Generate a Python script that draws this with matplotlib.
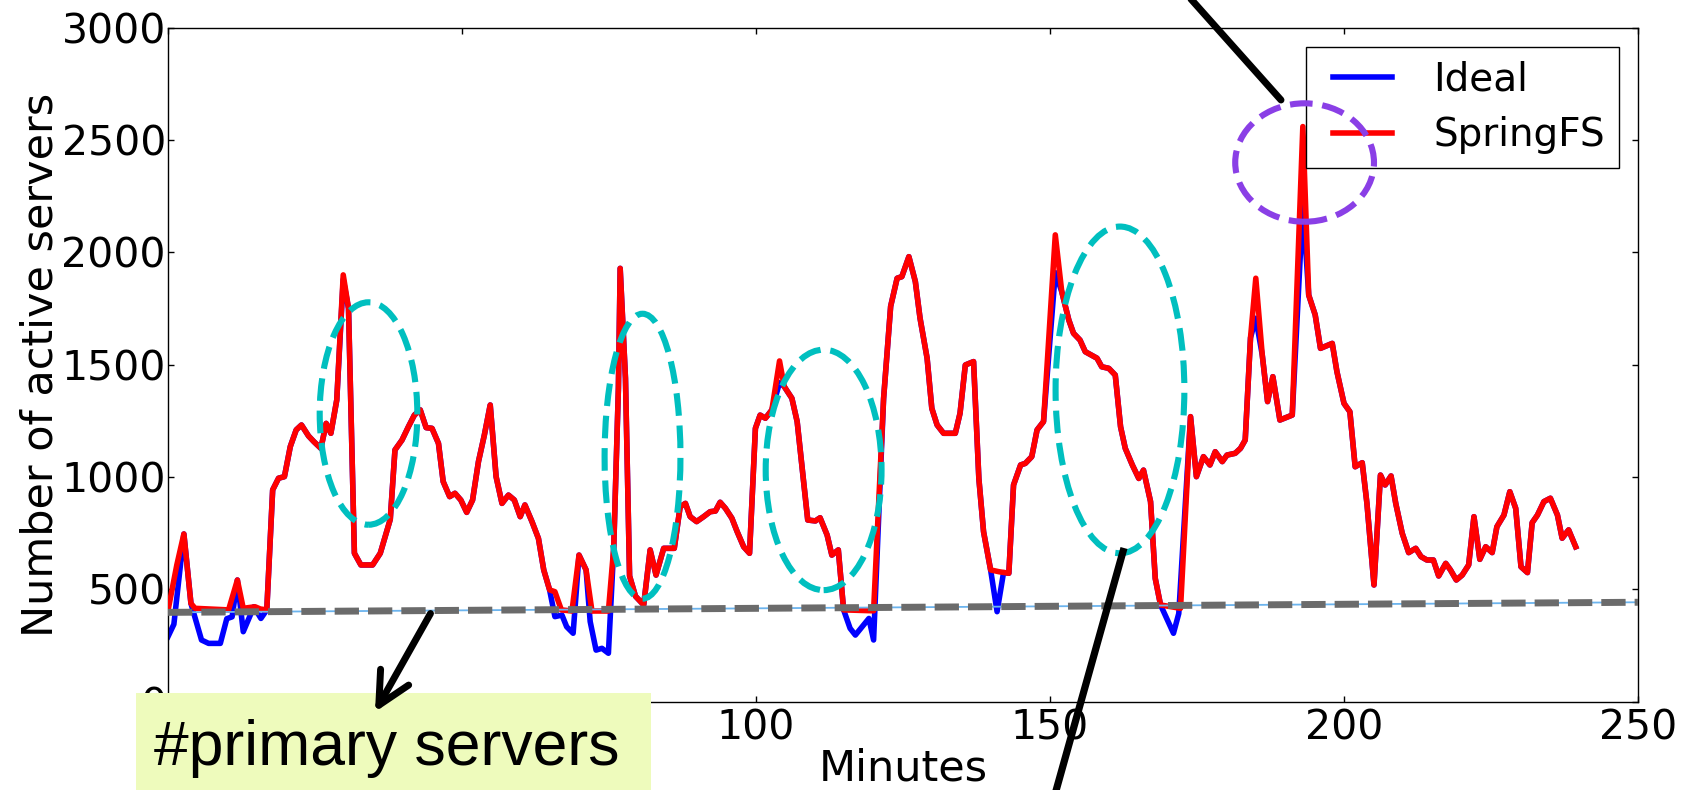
import matplotlib
matplotlib.use("Agg")
import matplotlib.pyplot as plt
from matplotlib.patches import Ellipse, FancyArrowPatch, Rectangle
from matplotlib.lines import Line2D
from matplotlib.legend_handler import HandlerLine2D

# ---------------- data ----------------
springfs_minutes = [
    0, 1.5, 2.7, 3.9, 4.6, 10.3, 11.8, 12.8, 14.8, 15.7,
    16.8, 17.8, 18.8, 19.8, 20.8, 21.8, 22.7, 23.9, 24.8, 26.0,
    26.9, 27.7, 28.7, 29.8, 30.7, 31.7, 32.8, 34.8, 36.1, 37.8,
    38.6, 39.8, 40.9, 41.9, 42.9, 43.9, 44.9, 46.0, 46.8, 47.9,
    48.8, 49.8, 50.8, 51.8, 52.8, 53.8, 54.8, 55.8, 56.8, 57.9,
    58.9, 59.9, 60.7, 61.9, 63.0, 63.9, 64.9, 65.8, 66.9, 68.7,
    69.9, 71.1, 72.1, 74.9, 75.8, 76.6, 76.9, 77.8, 78.5, 79.5,
    80.9, 82.0, 83.0, 84.3, 86.1, 87.1, 88.0, 88.8, 89.9, 91.1,
    92.2, 93.1, 93.9, 94.8, 95.9, 96.8, 97.9, 98.9, 99.9, 100.7,
    101.6, 102.7, 104.0, 104.8, 106.1, 107.0, 108.8, 110.1, 110.9, 112.1,
    112.9, 114.0, 114.9, 120.0, 121.7, 122.9, 124.0, 124.8, 126.0, 127.1,
    127.9, 129.1, 129.9, 130.8, 131.9, 133.9, 134.7, 135.6, 137.0, 137.9,
    138.7, 139.9, 141.3, 143.0, 143.8, 145.0, 145.8, 146.9, 147.8, 148.9,
    150.9, 152.0, 153.2, 154.0, 155.1, 156.0, 158.0, 158.8, 160.0, 161.1,
    162.0, 162.8, 164.0, 165.1, 165.9, 167.1, 167.9, 168.8, 172.2, 173.9,
    174.9, 176.1, 177.2, 178.1, 179.3, 180.1, 181.5, 182.4, 183.2, 184.1,
    185.0, 186.1, 187.0, 187.9, 189.1, 191.2, 193.0, 194.0, 195.1, 196.0,
    198.0, 198.8, 200.0, 201.0, 201.9, 203.1, 203.9, 205.1, 206.2, 207.0,
    208.0, 208.8, 209.9, 211.0, 212.2, 213.1, 214.1, 215.2, 216.1, 217.3,
    218.1, 219.1, 220.1, 221.2, 222.1, 223.1, 224.1, 225.2, 226.0, 227.2,
    228.2, 229.2, 230.1, 231.2, 232.0, 232.9, 234.0, 235.1, 236.3, 237.1,
    238.2, 239.4,
]
springfs_servers = [
    406, 609, 747, 438, 416, 409, 542, 416, 423, 413,
    409, 943, 995, 1002, 1136, 1210, 1232, 1183, 1158, 1128,
    1239, 1195, 1343, 1900, 1751, 661, 609, 609, 661, 812,
    1121, 1165, 1225, 1276, 1299, 1220, 1217, 1150, 980, 913,
    928, 898, 843, 898, 1069, 1187, 1321, 1002, 883, 920,
    898, 824, 876, 802, 727, 587, 498, 490, 409, 404,
    653, 587, 404, 404, 683, 1395, 1929, 1440, 560, 470,
    431, 676, 564, 683, 683, 868, 883, 824, 802, 824,
    846, 849, 888, 861, 817, 757, 690, 661, 1217, 1276,
    1262, 1299, 1517, 1403, 1351, 1247, 809, 805, 819, 742,
    653, 676, 409, 405, 1350, 1760, 1885, 1892, 1981, 1870,
    1707, 1529, 1306, 1232, 1195, 1195, 1284, 1499, 1514, 994,
    757, 587, 579, 572, 965, 1054, 1061, 1091, 1210, 1247,
    2078, 1825, 1699, 1640, 1610, 1558, 1529, 1491, 1484, 1454,
    1224, 1128, 1054, 994, 1031, 891, 549, 431, 416, 1269,
    1002, 1091, 1054, 1113, 1069, 1098, 1106, 1128, 1165, 1620,
    1885, 1543, 1336, 1447, 1254, 1276, 2560, 1810, 1722, 1573,
    1595, 1469, 1328, 1291, 1046, 1064, 883, 520, 1009, 965,
    1005, 883, 750, 664, 683, 646, 631, 631, 560, 616,
    587, 542, 564, 609, 824, 634, 690, 664, 779, 831,
    935, 861, 601, 575, 797, 831, 891, 906, 831, 728,
    765, 690,
]

ideal_minutes = [
    0, 1.0, 2.7, 3.9, 5.7, 6.9, 8.9, 10.0, 10.9, 11.8,
    12.8, 14.6, 15.8, 16.8, 17.8, 18.8, 19.8, 20.8, 21.8, 22.7,
    23.9, 24.8, 26.0, 26.9, 27.7, 28.7, 29.8, 30.7, 31.7, 32.8,
    34.8, 36.1, 37.8, 38.6, 39.8, 40.9, 41.9, 42.9, 43.9, 44.9,
    46.0, 46.8, 47.9, 48.8, 49.8, 50.8, 51.8, 52.8, 53.8, 54.8,
    55.8, 56.8, 57.9, 58.9, 59.9, 60.7, 61.9, 63.0, 63.9, 64.9,
    65.8, 67.0, 67.8, 68.9, 69.9, 71.1, 71.8, 72.8, 73.8, 74.9,
    75.8, 76.6, 76.9, 77.8, 78.5, 79.5, 80.9, 82.0, 83.0, 84.3,
    86.1, 87.1, 88.0, 88.8, 89.9, 91.1, 92.2, 93.1, 93.9, 94.8,
    95.9, 96.8, 97.9, 98.9, 99.9, 100.7, 101.6, 102.7, 104.0, 104.8,
    106.1, 107.0, 108.8, 110.1, 110.9, 112.1, 112.9, 114.0, 114.9, 116.0,
    116.9, 119.2, 120.0, 121.7, 122.9, 124.0, 124.8, 126.0, 127.1, 127.9,
    129.1, 129.9, 130.8, 131.9, 133.9, 134.7, 135.6, 137.0, 137.9, 138.7,
    139.9, 141.0, 142.1, 143.0, 143.8, 145.0, 145.8, 146.9, 147.8, 148.9,
    150.9, 152.0, 153.2, 154.0, 155.1, 156.0, 158.0, 158.8, 160.0, 161.1,
    162.0, 162.8, 164.0, 165.1, 165.9, 167.1, 167.9, 168.8, 171.0, 171.9,
    173.9, 174.9, 176.1, 177.2, 178.1, 179.3, 180.1, 181.5, 182.4, 183.2,
    184.1, 185.0, 186.1, 187.0, 187.9, 189.1, 191.2, 193.0, 194.0, 195.1,
    196.0, 198.0, 198.8, 200.0, 201.0, 201.9, 203.1, 203.9, 205.1, 206.2,
    207.0, 208.0, 208.8, 209.9, 211.0, 212.2, 213.1, 214.1, 215.2, 216.1,
    217.3, 218.1, 219.1, 220.1, 221.2, 222.1, 223.1, 224.1, 225.2, 226.0,
    227.2, 228.2, 229.2, 230.1, 231.2, 232.0, 232.9, 234.0, 235.1, 236.3,
    237.1, 238.2, 239.4,
]
ideal_servers = [
    290, 345, 747, 438, 275, 260, 260, 370, 378, 542,
    312, 423, 371, 409, 943, 995, 1002, 1136, 1210, 1232,
    1183, 1158, 1128, 1239, 1195, 1343, 1880, 1751, 661, 609,
    609, 661, 812, 1121, 1165, 1225, 1276, 1299, 1220, 1217,
    1150, 980, 913, 928, 898, 843, 898, 1069, 1187, 1321,
    1002, 883, 920, 898, 824, 876, 802, 727, 587, 498,
    379, 386, 334, 305, 653, 587, 357, 230, 238, 216,
    683, 1395, 1929, 1440, 560, 470, 431, 676, 564, 683,
    683, 868, 883, 824, 802, 824, 846, 849, 888, 861,
    817, 757, 690, 661, 1217, 1276, 1262, 1299, 1420, 1403,
    1351, 1247, 809, 805, 819, 742, 653, 676, 409, 327,
    297, 371, 275, 1350, 1760, 1885, 1892, 1981, 1870, 1707,
    1529, 1306, 1232, 1195, 1195, 1284, 1499, 1514, 994, 757,
    587, 401, 575, 572, 965, 1054, 1061, 1091, 1210, 1247,
    1910, 1825, 1699, 1640, 1610, 1558, 1529, 1491, 1484, 1454,
    1224, 1128, 1054, 994, 1031, 891, 549, 431, 305, 393,
    1269, 1002, 1091, 1054, 1113, 1069, 1098, 1106, 1128, 1165,
    1620, 1707, 1543, 1336, 1447, 1254, 1276, 2211, 1810, 1722,
    1573, 1595, 1469, 1328, 1291, 1046, 1064, 883, 520, 1009,
    965, 1005, 883, 750, 664, 683, 646, 631, 631, 560,
    616, 587, 542, 564, 609, 824, 634, 690, 664, 779,
    831, 935, 861, 601, 575, 797, 831, 891, 906, 831,
    728, 765, 690,
]

primary_minutes = [0, 250]
primary_servers = [398, 443]

x_ticks = [0, 50, 100, 150, 200, 250]
x_tick_labels = ["", "", "100", "150", "200", "250"]  # 0 and 50 sit under the label box
y_ticks = [0, 500, 1000, 1500, 2000, 2500, 3000]
series_labels = ["Ideal", "SpringFS"]
x_label = "Minutes"
y_label = "Number of active servers"
box_label = "#primary servers"

# ---------------- figure ----------------
W, H = 1694, 790
fig = plt.figure(figsize=(W / 100, H / 100), dpi=100)


def fx(px):
    return px / W


def fy(py):
    return 1 - py / H


ax_left, ax_right, ax_top, ax_bottom = 168, 1638, 27.7, 701.8
ax = fig.add_axes([fx(ax_left), fy(ax_bottom),
                   (ax_right - ax_left) / W, (ax_bottom - ax_top) / H])

l_ideal, = ax.plot(ideal_minutes, ideal_servers, color="#0000FF", lw=4.0,
                   solid_joinstyle="round", zorder=2, label=series_labels[0])
l_spring, = ax.plot(springfs_minutes, springfs_servers, color="#FF0000", lw=4.0,
                    solid_joinstyle="round", zorder=3, label=series_labels[1])
ax.plot(primary_minutes, primary_servers, color="#6CB4EE", lw=1.3, zorder=3.5)
ax.plot(primary_minutes, primary_servers, color="#6B6B6B", lw=5,
        dashes=(3.5, 1.3), zorder=4)

ax.set_xlim(0, 250)
ax.set_ylim(0, 3000)
ax.set_xticks(x_ticks)
ax.set_xticklabels(x_tick_labels)
ax.set_yticks(y_ticks)
ax.tick_params(direction="in", top=True, right=True, length=4.5, width=1,
               labelsize=29.5)
ax.tick_params(axis="x", pad=5)
ax.tick_params(axis="y", pad=1.5)
for sp in ax.spines.values():
    sp.set_linewidth(1.0)
ax.set_xlabel(x_label, fontsize=31, labelpad=-1)
ax.set_ylabel(y_label, fontsize=31, labelpad=0)

leg = ax.legend(handles=[l_ideal, l_spring], loc="upper right",
                fontsize=28, frameon=True, fancybox=False, framealpha=1,
                edgecolor="black", borderpad=0.35, labelspacing=0.45,
                handlelength=1.88, handletextpad=1.05, borderaxespad=0.5,
                numpoints=1,
                handler_map={Line2D: HandlerLine2D(xpad=0.34)})
leg.get_frame().set_linewidth(1.0)
leg.set_zorder(5)

# ---------------- annotation ellipses (data coords) ----------------
cyan = "#00BFBF"
for (cx, cy, w, h) in [(34.1, 1283, 16.6, 990), (80.7, 1093, 12.9, 1268),
                       (111.5, 1032, 19.7, 1070), (161.9, 1388, 21.9, 1454)]:
    ax.add_patch(Ellipse((cx, cy), w, h, fill=False, edgecolor=cyan, lw=4.4,
                         linestyle="--", zorder=6, clip_on=False))
ax.add_patch(Ellipse((193.3, 2400), 23.6, 527, fill=False, edgecolor="#8A3FE6",
                     lw=4.4, linestyle="--", zorder=6, clip_on=False))

# ---------------- figure-level annotations ----------------
fig.add_artist(Rectangle((fx(135.7), 0), (651 - 135.7) / W, (H - 693.3) / H,
                         transform=fig.transFigure, facecolor="#EEFBBC",
                         edgecolor="none", zorder=8))
fig.text(fx(153.6), fy(765), box_label, fontsize=45,
         family=["Liberation Sans", "DejaVu Sans"], ha="left", va="baseline",
         zorder=9)

fig.add_artist(FancyArrowPatch(posA=(fx(430.5), fy(613.5)), posB=(fx(375), fy(712)),
                               transform=fig.transFigure, arrowstyle="->",
                               mutation_scale=58, lw=5, color="black",
                               shrinkA=0, shrinkB=0, zorder=10))
fig.add_artist(Line2D([fx(1124), fx(1045)], [fy(548), fy(830)],
                      transform=fig.transFigure, color="black", lw=5.2,
                      solid_capstyle="butt", zorder=10))
fig.add_artist(Line2D([fx(1190), fx(1281)], [fy(-2), fy(100)],
                      transform=fig.transFigure, color="black", lw=5,
                      solid_capstyle="round", zorder=10))

fig.savefig("out.png", dpi=100)
